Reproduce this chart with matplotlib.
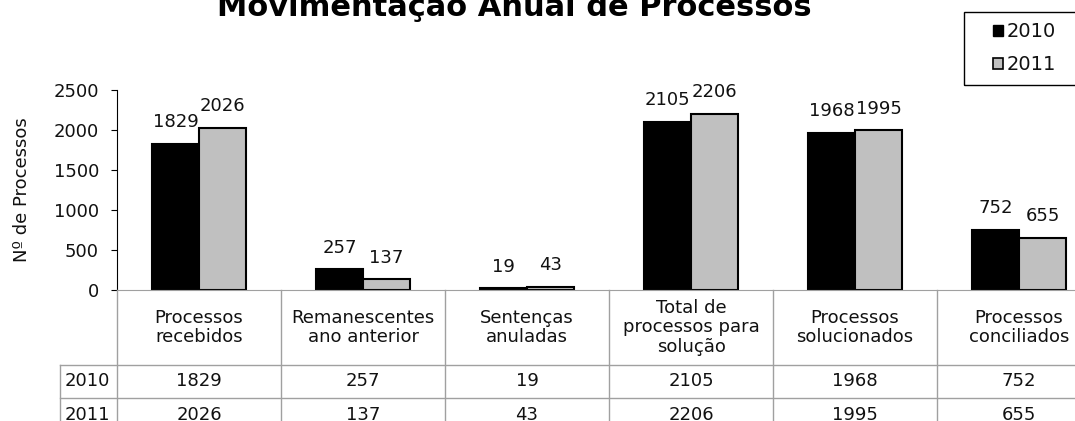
import numpy as np
import matplotlib
matplotlib.use("Agg")
import matplotlib.pyplot as plt
from matplotlib.patches import Patch, Rectangle

# === 数据 ===
categorias = ["Processos\nrecebidos", "Remanescentes\nano anterior", "Sentenças\nanuladas",
              "Total de\nprocessos para\nsolução", "Processos\nsolucionados", "Processos\nconciliados"]
anos = ["2010", "2011"]
valores_2010 = [1829, 257, 19, 2105, 1968, 752]
valores_2011 = [2026, 137, 43, 2206, 1995, 655]
yticks = [0, 500, 1000, 1500, 2000, 2500]

plt.rcParams['font.family'] = ['DejaVu Sans']
W, H = 1075, 421
FS = 13
GRID = '#a0a0a0'
TXT = '#111111'


def fx(px):
    return px / W


def fy(py):
    return 1 - py / H


fig = plt.figure(figsize=(W / 100, H / 100), dpi=100)

# === 图表区 ===
ax = fig.add_axes([fx(117), fy(290), (1101 - 117) / W, 200 / H])
x = np.arange(len(categorias))
w = 0.287
b1 = ax.bar(x - w / 2, valores_2010, w, color='black', edgecolor='black', lw=1.5)
b2 = ax.bar(x + w / 2, valores_2011, w, color='#c0c0c0', edgecolor='black', lw=1.5)
ax.bar_label(b1, padding=9, fontsize=FS, color=TXT)
ax.bar_label(b2, padding=9, fontsize=FS, color=TXT)

ax.set_xlim(-0.5, len(categorias) - 0.5)
ax.set_ylim(0, 2500)
ax.set_yticks(yticks)
ax.set_xticks([])
ax.tick_params(axis='y', length=4, pad=9, labelsize=FS, labelcolor=TXT)
for s in ['top', 'right']:
    ax.spines[s].set_visible(False)
ax.spines['bottom'].set_color(GRID)
ax.spines['left'].set_color('black')
ax.set_ylabel("Nº de Processos", fontsize=FS, labelpad=16, color=TXT)

# === 数据表 ===
x0 = -0.5 - 57 / 164
tax = fig.add_axes([fx(60), fy(431), (1101 - 60) / W, 141 / H])
tax.set_xlim(x0, len(categorias) - 0.5)
tax.set_ylim(141, 0)
tax.axis('off')
for b in np.arange(-0.5, len(categorias), 1.0):
    tax.plot([b, b], [0, 141], color=GRID, lw=1, clip_on=False)
tax.plot([x0, x0], [75, 141], color=GRID, lw=1, clip_on=False)
for yy in [75, 108]:
    tax.plot([x0, len(categorias) - 0.5], [yy, yy], color=GRID, lw=1, clip_on=False)

for i, cat in enumerate(categorias):
    tax.text(i, 37.5, cat, ha='center', va='center', fontsize=FS, linespacing=1.1, color=TXT)
    tax.text(i, 91.5, str(valores_2010[i]), ha='center', va='center', fontsize=FS, color=TXT)
    tax.text(i, 124.5, str(valores_2011[i]), ha='center', va='center', fontsize=FS, color=TXT)
tax.text(x0 + 5 / 164, 91.5, anos[0], ha='left', va='center', fontsize=FS, color=TXT)
tax.text(x0 + 5 / 164, 124.5, anos[1], ha='left', va='center', fontsize=FS, color=TXT)

# === 标题 ===
fig.text(fx(514), fy(16), "Movimentação Anual de Processos", ha='center', va='baseline',
         fontsize=22, fontweight='bold')

# === 图例 ===
handles = [Patch(facecolor='black', edgecolor='black'),
           Patch(facecolor='#c0c0c0', edgecolor='black', lw=1.2)]
fig.legend(handles, anos, loc='upper left', bbox_to_anchor=(fx(993), fy(22)),
           frameon=False, fontsize=14, labelcolor=TXT, handlelength=0.5, handleheight=0.5,
           handletextpad=0.2, labelspacing=0.72, borderpad=0, borderaxespad=0)
fig.add_artist(Rectangle((fx(964), fy(85)), fx(1085) - fx(964), (85 - 12) / H,
                         transform=fig.transFigure, fill=False, ec='black', lw=1))

fig.savefig("out.png", dpi=100)
